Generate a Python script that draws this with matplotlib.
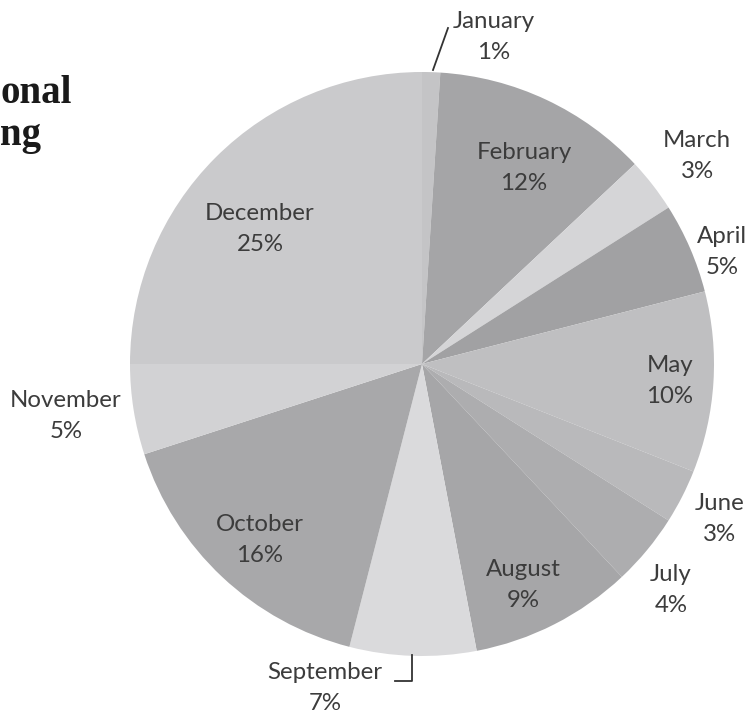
"""Pie chart of giving by month, grey Excel-style, with a cropped title on the left."""

import matplotlib.pyplot as plt

months = ['January', 'February', 'March', 'April', 'May', 'June',
          'July', 'August', 'September', 'October', 'November', 'December']
shares = [1, 12, 3, 5, 10, 3, 4, 9, 7, 16, 5, 25]
colors = ['#c4c4c6', '#a5a5a7', '#d5d5d7', '#a1a1a3', '#bfbfc1', '#b9b9bb',
          '#adadaf', '#a6a6a8', '#dadadc', '#a8a8aa', '#d2d2d4', '#cacacc']

# label centres in picture pixels (x, y from top)
label_pos = {
    'January': (494, 37), 'February': (524, 168), 'March': (697, 156),
    'April': (722, 252), 'May': (670, 381), 'June': (720, 519),
    'July': (671, 590), 'August': (523, 585), 'September': (325, 688),
    'October': (260, 540), 'November': (66, 416), 'December': (260, 229),
}

W, H = 746, 717
cx, cy, R = 422, 364, 292

fig = plt.figure(figsize=(W / 100, H / 100), dpi=100)
ax = fig.add_axes([0, 0, 1, 1])

ax.pie(shares, colors=colors, startangle=90, counterclock=False,
       center=(cx, H - cy), radius=R, frame=True,
       wedgeprops=dict(linewidth=0))

ax.set_xlim(0, W)
ax.set_ylim(0, H)
ax.set_aspect('equal')
ax.axis('off')

for m, s in zip(months, shares):
    x, y = label_pos[m]
    ax.text(x, H - y, f"{m}\n{s}%", ha='center', va='center',
            fontsize=17.3, family='Lato', color='#3c3c3c', linespacing=1.55)

# leader lines
ax.plot([433, 448], [H - 70, H - 28], color='#333333', lw=1.3)
ax.plot([412, 412, 395], [H - 655, H - 681, H - 681], color='#333333', lw=1.3)

# title, cropped by the left edge in the original
ax.text(0, H - 103, "onal", ha='left', va='baseline', fontsize=28,
        family='Liberation Serif', weight='bold', color='#1a1a1a')
ax.text(0, H - 145, "ng", ha='left', va='baseline', fontsize=28,
        family='Liberation Serif', weight='bold', color='#1a1a1a')

fig.savefig('out.png', dpi=100)
